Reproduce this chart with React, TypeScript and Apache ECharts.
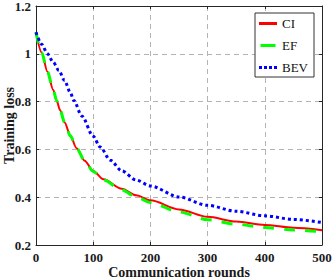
import React, { useEffect, useRef } from "react";
import * as echarts from "echarts";

const rounds = [0, 10, 20, 30, 36, 42, 50, 60, 71, 85, 100, 118, 150, 175, 200, 250, 300, 350, 400, 450, 500];
const ciLoss = [1.09, 1.005, 0.925, 0.85, 0.805, 0.765, 0.713, 0.657, 0.605, 0.553, 0.51, 0.475, 0.435, 0.408, 0.387, 0.349, 0.318, 0.298, 0.284, 0.272, 0.262];
const efLoss = [1.09, 1.005, 0.925, 0.85, 0.805, 0.765, 0.713, 0.657, 0.605, 0.553, 0.508, 0.472, 0.43, 0.401, 0.378, 0.338, 0.306, 0.287, 0.273, 0.263, 0.255];
const bevRounds = [0, 10, 20, 30, 40, 50, 60, 66, 80, 100, 112, 130, 150, 175, 200, 250, 300, 350, 400, 450, 500];
const bevLoss = [1.09, 1.04, 1.0, 0.965, 0.93, 0.888, 0.838, 0.805, 0.74, 0.655, 0.61, 0.555, 0.51, 0.472, 0.447, 0.401, 0.366, 0.341, 0.322, 0.307, 0.294];
const seriesNames = ["CI", "EF", "BEV"];

const serif = "'Liberation Serif', 'Times New Roman', Times, serif";

export default function App() {
  const ref = useRef<HTMLDivElement>(null);
  useEffect(() => {
    if (!ref.current) return;
    const chart = echarts.init(ref.current, undefined, { renderer: "svg" });
    const pair = (xs: number[], ys: number[]) => xs.map((x, i) => [x, ys[i]]);
    const tickLabel = { fontFamily: serif, fontWeight: "bold" as const, fontSize: 13, color: "#1a1a1a" };
    const axisLine = { show: true, onZero: false, lineStyle: { color: "#262626", width: 1 } };
    const axisTick = { show: true, inside: true, length: 3, lineStyle: { color: "#262626" } };
    const split = { show: true, lineStyle: { type: [5, 4], color: "#b3b3b3", width: 1 } };
    chart.setOption({
      animation: false,
      backgroundColor: "#fff",
      grid: { left: 36, right: 10, top: 6, bottom: 34, containLabel: false, outerBoundsMode: "none" },
      legend: {
        orient: "vertical",
        right: 18,
        top: 13,
        backgroundColor: "#fff",
        borderColor: "#333",
        borderWidth: 1,
        borderRadius: 0,
        padding: [4, 6, 3, 4],
        itemWidth: 18,
        itemHeight: 3,
        itemGap: 9,
        textStyle: { fontFamily: serif, fontSize: 13, color: "#111" },
        data: [
          { name: seriesNames[0], icon: "rect", itemStyle: { color: "#ff0000" } },
          { name: seriesNames[1], icon: "path://M0,0h15v3h-15z", itemStyle: { color: "#00ff00" } },
          { name: seriesNames[2], icon: "path://M0,0h3v3h-3zM5,0h3v3h-3zM10,0h3v3h-3zM15,0h3v3h-3z", itemStyle: { color: "#0000ff" } },
        ],
      },
      xAxis: [
        {
          type: "value",
          min: 0,
          max: 500,
          interval: 100,
          name: "Communication rounds",
          nameLocation: "middle",
          nameGap: 20,
          nameMoveOverlap: false,
          nameTextStyle: { fontFamily: serif, fontWeight: "bold", fontSize: 14, color: "#1a1a1a" },
          axisLine,
          axisTick,
          axisLabel: { ...tickLabel, margin: 6 },
          splitLine: split,
        },
        {
          type: "value",
          position: "top",
          min: 0,
          max: 500,
          interval: 100,
          axisLine,
          axisTick,
          axisLabel: { show: false },
          splitLine: { show: false },
        },
      ],
      yAxis: [
        {
          type: "value",
          min: 0.2,
          max: 1.2,
          interval: 0.2,
          name: "Training loss",
          nameLocation: "middle",
          nameGap: 20,
          nameMoveOverlap: false,
          nameTextStyle: { fontFamily: serif, fontWeight: "bold", fontSize: 14, color: "#1a1a1a" },
          axisLine,
          axisTick,
          axisLabel: { ...tickLabel, margin: 5, formatter: (v: number) => String(Math.round(v * 10) / 10) },
          splitLine: split,
        },
        {
          type: "value",
          position: "right",
          min: 0.2,
          max: 1.2,
          interval: 0.2,
          axisLine,
          axisTick,
          axisLabel: { show: false },
          splitLine: { show: false },
        },
      ],
      series: [
        {
          name: "CI",
          type: "line",
          smooth: 0.3,
          smoothMonotone: "x",
          showSymbol: false,
          symbol: "none",
          data: pair(rounds, ciLoss),
          lineStyle: { color: "#ff0000", width: 2 },
          itemStyle: { color: "#ff0000" },
          z: 2,
        },
        {
          name: "EF",
          type: "line",
          smooth: 0.3,
          smoothMonotone: "x",
          showSymbol: false,
          symbol: "none",
          data: pair(rounds, efLoss),
          lineStyle: { color: "#00ff00", width: 3, type: [11, 10], cap: "butt" },
          itemStyle: { color: "#00ff00" },
          z: 3,
        },
        {
          name: "BEV",
          type: "line",
          smooth: 0.3,
          smoothMonotone: "x",
          showSymbol: false,
          symbol: "none",
          data: pair(bevRounds, bevLoss),
          lineStyle: { color: "#0000ff", width: 3, type: [3, 3], cap: "butt" },
          itemStyle: { color: "#0000ff" },
          z: 4,
        },
      ],
    });
    return () => chart.dispose();
  }, []);
  return <div ref={ref} style={{ width: 332, height: 279, position: "absolute", left: 0, top: 0 }} />;
}
